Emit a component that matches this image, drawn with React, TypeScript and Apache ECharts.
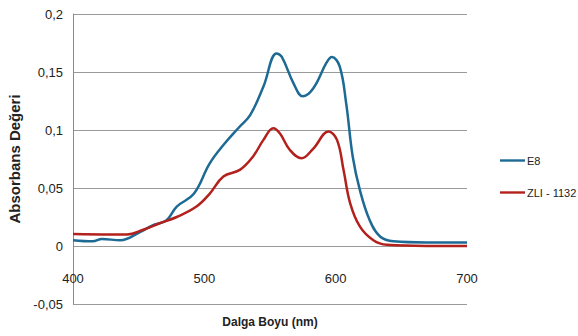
import React, { useEffect, useRef } from "react";
import * as echarts from "echarts";

const e8Wavelength = [400, 415, 422, 436, 451, 461, 471, 479, 492, 504, 514.5, 527, 535, 545, 555, 559, 568, 575, 583, 593, 597, 603, 608, 613, 618.5, 626, 634, 644, 669, 700];
const e8Values = [0.005, 0.004, 0.006, 0.005, 0.012, 0.018, 0.022, 0.034, 0.045, 0.071, 0.087, 0.103, 0.113, 0.1375, 0.166, 0.163, 0.14, 0.129, 0.136, 0.158, 0.163, 0.155, 0.123, 0.077, 0.048, 0.022, 0.008, 0.004, 0.003, 0.003];

const zliWavelength = [400, 428, 441, 453.5, 466, 479, 494, 504, 514.5, 527, 537, 545, 552.5, 557.6, 565, 574, 583, 594.5, 601, 606, 611, 618.5, 628.7, 639, 669, 700];
const zliValues = [0.0104, 0.01, 0.01, 0.014, 0.0196, 0.025, 0.034, 0.045, 0.06, 0.0656, 0.077, 0.0915, 0.1015, 0.097, 0.083, 0.0756, 0.084, 0.0987, 0.0915, 0.0656, 0.037, 0.0167, 0.005, 0.001, 0.0, 0.0];

const seriesNames = ["E8", "ZLI - 1132"];
const seriesColors = ["#1d6a94", "#b3211d"];
const xTicks = { min: 400, max: 700, interval: 100 };
const yTicks = { min: -0.05, max: 0.2, interval: 0.05 };

const FONT = "'Liberation Sans', Arial, sans-serif";

export default function App() {
  const ref = useRef<HTMLDivElement>(null);
  useEffect(() => {
    if (!ref.current) return;
    const chart = echarts.init(ref.current, null, { renderer: "svg" });
    const toPairs = (xs: number[], ys: number[]) => xs.map((x, i) => [x, ys[i]]);
    chart.setOption({
      animation: false,
      backgroundColor: "#ffffff",
      grid: { left: 73, right: 111, top: 14, bottom: 32, outerBoundsMode: "none", containLabel: false },
      legend: {
        orient: "vertical",
        left: 495,
        top: 150,
        itemWidth: 25,
        itemHeight: 14,
        itemGap: 21,
        data: seriesNames.map((n) => ({ name: n, icon: "path://M0,6 L26,6 L26,8.5 L0,8.5 Z" })),
        textStyle: { fontFamily: FONT, fontSize: 11, color: "#222", padding: [0, 0, 0, -3] },
      },
      xAxis: {
        type: "value",
        min: xTicks.min,
        max: xTicks.max,
        interval: xTicks.interval,
        name: "Dalga Boyu (nm)",
        nameLocation: "middle",
        nameGap: 12,
        nameTextStyle: { fontFamily: FONT, fontSize: 12, fontWeight: "bold", color: "#222" },
        axisLine: { show: false, onZero: false },
        axisTick: { show: false },
        splitLine: { show: false },
        axisLabel: { margin: -32, fontFamily: FONT, fontSize: 13, color: "#222" },
      },
      yAxis: {
        type: "value",
        min: yTicks.min,
        max: yTicks.max,
        interval: yTicks.interval,
        name: "Absorbans Değeri",
        nameLocation: "middle",
        nameGap: 48,
        nameTextStyle: { fontFamily: FONT, fontSize: 15, fontWeight: "bold", color: "#222" },
        axisLine: { show: true, onZero: false, lineStyle: { color: "#8a8a8a", width: 1 } },
        axisTick: { show: false },
        splitLine: { show: true, lineStyle: { color: "#9a9a9a", width: 1 } },
        axisLabel: {
          margin: 10,
          fontFamily: FONT,
          fontSize: 13,
          color: "#222",
          formatter: (v: number) => String(Math.round(v * 100) / 100).replace(".", ","),
        },
      },
      series: [
        {
          name: seriesNames[0],
          type: "line",
          data: toPairs(e8Wavelength, e8Values),
          smooth: 0.4,
          showSymbol: false,
          lineStyle: { color: seriesColors[0], width: 2.5 },
          itemStyle: { color: seriesColors[0] },
        },
        {
          name: seriesNames[1],
          type: "line",
          data: toPairs(zliWavelength, zliValues),
          smooth: 0.4,
          showSymbol: false,
          lineStyle: { color: seriesColors[1], width: 2.5 },
          itemStyle: { color: seriesColors[1] },
        },
      ],
    });
    return () => chart.dispose();
  }, []);
  return <div ref={ref} style={{ width: 578, height: 336, position: "absolute", left: 0, top: 0 }} />;
}
